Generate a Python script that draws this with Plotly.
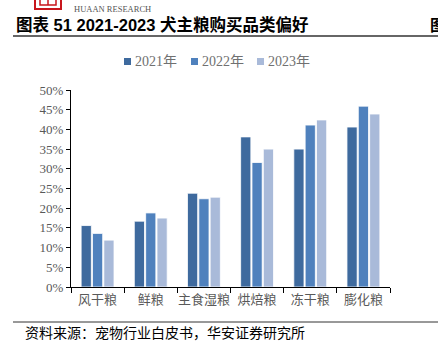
import plotly.graph_objects as go

categories = ["风干粮", "鲜粮", "主食湿粮", "烘焙粮", "冻干粮", "膨化粮"]
series_names = ["2021年", "2022年", "2023年"]
v2021 = [0.156, 0.167, 0.238, 0.381, 0.350, 0.406]
v2022 = [0.136, 0.188, 0.224, 0.316, 0.411, 0.459]
v2023 = [0.119, 0.175, 0.228, 0.350, 0.424, 0.439]
colors = ["#3E6A9E", "#4F81BD", "#A9BAD9"]
y_ticks = [0, 0.05, 0.10, 0.15, 0.20, 0.25, 0.30, 0.35, 0.40, 0.45, 0.50]
y_tick_labels = ["0%", "5%", "10%", "15%", "20%", "25%", "30%", "35%", "40%", "45%", "50%"]
title_text = "图表 51 2021-2023 犬主粮购买品类偏好"
source_text = "资料来源：宠物行业白皮书，华安证券研究所"

W, H = 438, 348
L, R, T, B = 71, 48, 90, 61
PW, PH = W - L - R, H - T - B

def px(x):
    return (x - L) / PW

def py(y):
    return (H - B - y) / PH

fig = go.Figure()
for name, vals, col in zip(series_names, [v2021, v2022, v2023], colors):
    fig.add_trace(go.Bar(
        x=categories, y=vals, name=name,
        marker=dict(color=col, line=dict(color="white", width=0.8)),
        showlegend=False,
    ))

fig.update_layout(
    width=W, height=H,
    margin=dict(l=L, r=R, t=T, b=B, pad=0),
    paper_bgcolor="white", plot_bgcolor="white",
    barmode="group", bargap=0.36, bargroupgap=0.1,
    font=dict(family="Liberation Serif, Noto Sans CJK SC", color="#595959", size=13),
)
fig.update_yaxes(
    range=[0, 0.5], tickvals=y_ticks, ticktext=y_tick_labels,
    showgrid=False, zeroline=False,
    showline=True, linecolor="#000000", linewidth=1,
    ticks="outside", ticklen=4, tickcolor="#000000", tickwidth=1,
    tickfont=dict(family="Liberation Serif", size=13, color="#595959"),
)
fig.update_xaxes(
    type="category", tickson="boundaries", tickangle=0,
    showgrid=False, zeroline=False,
    showline=True, linecolor="#000000", linewidth=1.2,
    ticks="outside", ticklen=5, tickcolor="#000000", tickwidth=1,
    tickfont=dict(family="Noto Sans CJK SC", size=13, color="#595959"),
)

shapes = []
annotations = []

# title
annotations.append(dict(
    xref="paper", yref="paper", x=px(14), y=py(24), xanchor="left", yanchor="middle",
    text="<b>" + title_text + "</b>", showarrow=False,
    font=dict(family="Liberation Sans, Noto Sans CJK SC", size=16.5, color="#000000"),
))
annotations.append(dict(
    xref="paper", yref="paper", x=px(428), y=py(24), xanchor="left", yanchor="middle",
    text="<b>图</b>", showarrow=False,
    font=dict(family="Noto Sans CJK SC", size=16, color="#000000"),
))
# title rule
shapes.append(dict(type="line", xref="paper", yref="paper",
                   x0=px(13), x1=px(440), y0=py(36), y1=py(36),
                   line=dict(color="#333333", width=1.5)))
# footer rule
shapes.append(dict(type="line", xref="paper", yref="paper",
                   x0=px(13), x1=px(440), y0=py(322), y1=py(322),
                   line=dict(color="#333333", width=1)))
annotations.append(dict(
    xref="paper", yref="paper", x=px(23), y=py(332), xanchor="left", yanchor="middle",
    text=source_text, showarrow=False,
    font=dict(family="Noto Sans CJK SC", size=14, color="#000000"),
))
# logo
shapes.append(dict(type="rect", xref="paper", yref="paper",
                   x0=px(35), x1=px(61), y0=py(-6), y1=py(9),
                   line=dict(color="#C8161D", width=2), fillcolor="white"))
shapes.append(dict(type="rect", xref="paper", yref="paper",
                   x0=px(40), x1=px(56), y0=py(-6), y1=py(5),
                   line=dict(color="#C8161D", width=1.5), fillcolor="white"))
shapes.append(dict(type="line", xref="paper", yref="paper",
                   x0=px(48), x1=px(48), y0=py(-6), y1=py(5),
                   line=dict(color="#C8161D", width=1.5)))
annotations.append(dict(
    xref="paper", yref="paper", x=px(72), y=py(9), xanchor="left", yanchor="middle",
    text="HUAAN RESEARCH", showarrow=False,
    font=dict(family="Liberation Serif", size=8.5, color="#555555"),
))

# legend (manual)
leg_x = [124, 191, 257]
for lx, name, col in zip(leg_x, series_names, colors):
    shapes.append(dict(type="rect", xref="paper", yref="paper",
                       x0=px(lx), x1=px(lx + 7), y0=py(58), y1=py(65),
                       line=dict(width=0), fillcolor=col))
    annotations.append(dict(
        xref="paper", yref="paper", x=px(lx + 9), y=py(61.5), xanchor="left", yanchor="middle",
        text=name, showarrow=False,
        font=dict(family="Liberation Serif, Noto Sans CJK SC", size=14, color="#707070"),
    ))

fig.update_layout(shapes=shapes, annotations=annotations)
fig.write_html("out.html")
